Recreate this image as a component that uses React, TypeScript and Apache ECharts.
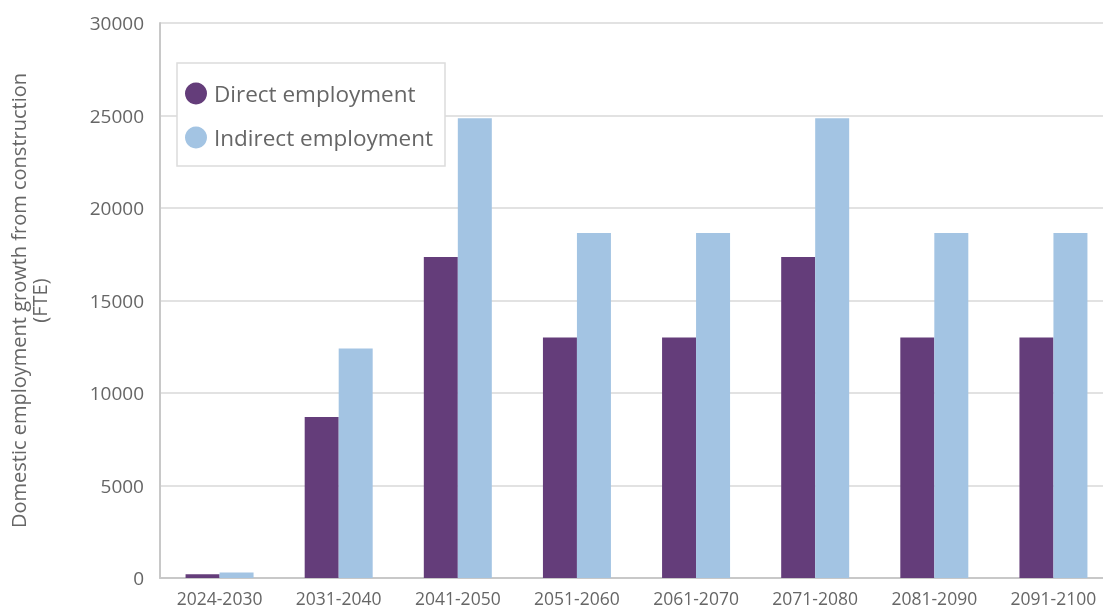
import React, { useEffect, useRef } from "react";
import * as echarts from "echarts";

const categories = ["2024-2030", "2031-2040", "2041-2050", "2051-2060", "2061-2070", "2071-2080", "2081-2090", "2091-2100"];
const directEmployment = [200, 8700, 17350, 13000, 13000, 17350, 13000, 13000];
const indirectEmployment = [300, 12400, 24850, 18650, 18650, 24850, 18650, 18650];
const yTicks = { min: 0, max: 30000, interval: 5000 };

export default function App() {
  const ref = useRef<HTMLDivElement>(null);
  useEffect(() => {
    if (!ref.current) return;
    const chart = echarts.init(ref.current, null, { renderer: "svg" });
    const font = "'Open Sans', 'Noto Sans', sans-serif";
    chart.setOption({
      animation: false,
      textStyle: { fontFamily: font },
      grid: { left: 160, right: -10, top: 23, bottom: 32, containLabel: false, outerBoundsMode: "none" },
      legend: {
        orient: "vertical",
        left: 177,
        top: 63,
        padding: [19, 12, 17, 8],
        itemGap: 21,
        itemWidth: 22,
        itemHeight: 22,
        icon: "circle",
        borderColor: "#dcdcdc",
        borderWidth: 1.5,
        backgroundColor: "#fff",
        textStyle: { fontSize: 22.5, color: "#666", fontFamily: font, padding: [0, 0, 0, 2] },
        data: ["Direct employment", "Indirect employment"],
      },
      xAxis: {
        type: "category",
        data: categories,
        axisLine: { lineStyle: { color: "#c8c8c8", width: 2 } },
        axisTick: { show: false },
        axisLabel: { fontSize: 17.5, color: "#666", margin: 11, fontFamily: font },
      },
      yAxis: {
        type: "value",
        min: yTicks.min,
        max: yTicks.max,
        interval: yTicks.interval,
        name: "Domestic employment growth from construction\n(FTE)",
        nameLocation: "middle",
        nameGap: 110,
        nameTextStyle: { fontSize: 20, color: "#666", lineHeight: 21, fontFamily: font },
        axisLine: { show: true, lineStyle: { color: "#c8c8c8", width: 2 } },
        axisTick: { show: false },
        axisLabel: { fontSize: 19, color: "#666", margin: 16, fontFamily: font, formatter: (v: number) => String(v) },
        splitLine: { lineStyle: { color: "#d9d9d9", width: 1.5 } },
      },
      series: [
        {
          name: "Direct employment",
          type: "bar",
          data: directEmployment,
          barWidth: 34,
          barGap: "0%",
          itemStyle: { color: "#643d7a" },
        },
        {
          name: "Indirect employment",
          type: "bar",
          data: indirectEmployment,
          barWidth: 34,
          barGap: "0%",
          itemStyle: { color: "#a3c4e3" },
        },
      ],
    });
    return () => chart.dispose();
  }, []);
  return <div ref={ref} style={{ position: "fixed", left: 0, top: 0, width: 1103, height: 610 }} />;
}
